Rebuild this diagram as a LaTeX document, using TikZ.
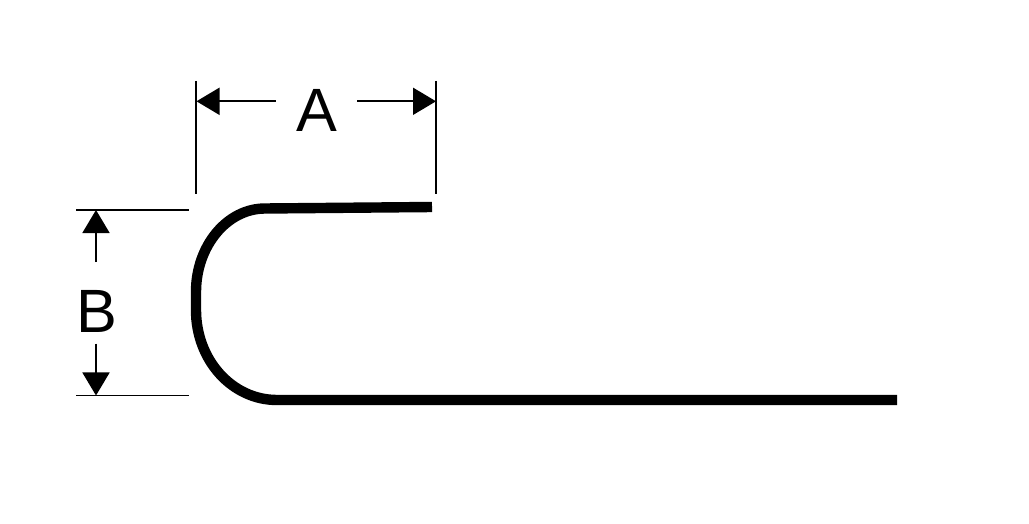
\documentclass[tikz,border=0pt]{standalone}
\usepackage{fontspec}
\setmainfont{Liberation Sans}
\usepackage{tikz}
\usetikzlibrary{arrows.meta}
\tikzset{
    dimline/.style={
        draw,
        line width=1.3pt
    },
    dimarrow/.style={
        dimline,
        -{Triangle[length=0.575cm, width=0.675cm]}
    },
    profile/.style={
        draw,
        line width=7.4pt
    },
    dimlabel/.style={
        inner sep=0pt,
        font=\fontsize{43.5}{43.5}\selectfont
    }
}

\begin{document}
\begin{tikzpicture}[x=0.025cm, y=-0.025cm]
    \useasboundingbox (0,0) rectangle (1029,524);

    % extension lines
    \coordinate (Atl) at (196,81);
    \coordinate (Abl) at (196,194);
    \coordinate (Atr) at (436,81);
    \coordinate (Abr) at (436,194);
    \coordinate (Bul) at (76,210);
    \coordinate (Bur) at (189,210);
    \coordinate (Bll) at (76,395.5);
    \coordinate (Blr) at (189,395.5);
    \draw[dimline] (Atl) -- (Abl);
    \draw[dimline] (Atr) -- (Abr);
    \draw[dimline] (Bul) -- (Bur);
    \draw[dimline] (Bll) -- (Blr);

    % labels
    \node[dimlabel, minimum width=2.025cm] (A) at (316.5,110) {A};
    \node[dimlabel] (B) at (97,311) {B};

    % dimension arrows
    \coordinate (Aleft) at (196.5,101.3);
    \coordinate (Aright) at (436,101.3);
    \coordinate (Bup) at (96,210);
    \coordinate (Bdown) at (96,395.5);
    \coordinate (Bupstart) at (96,262);
    \coordinate (Bdownstart) at (96,343.5);
    \draw[dimarrow] (A.west |- Aleft) -- (Aleft);
    \draw[dimarrow] (A.east |- Aright) -- (Aright);
    \draw[dimarrow] (Bupstart) -- (Bup);
    \draw[dimarrow] (Bdownstart) -- (Bdown);

    % profile
    \draw[profile] (432,207) -- (265,208.5)
        .. controls (227,208.5) and (196,246) .. (196,292)
        -- (196,310)
        .. controls (196,360) and (232,400) .. (277,400)
        -- (897,400);
\end{tikzpicture}
\end{document}
